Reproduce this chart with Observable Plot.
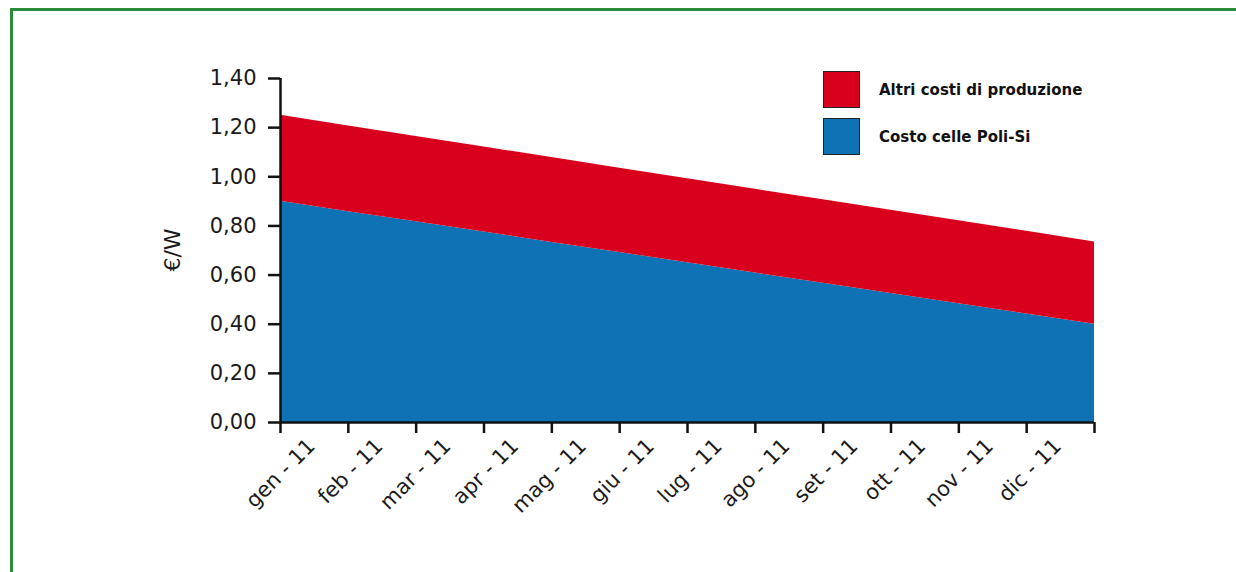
<!DOCTYPE html>
<html>
<head>
<meta charset="utf-8">
<script src="https://cdn.jsdelivr.net/npm/d3@7"></script>
<script src="https://cdn.jsdelivr.net/npm/@observablehq/plot@0.6"></script>
<style>
  html, body { margin: 0; padding: 0; background: #fff; }
  #wrap { position: relative; width: 1236px; height: 572px; overflow: hidden; }
  #frame { position: absolute; left: 10px; top: 8px; width: 1300px; height: 700px; border: 3px solid #2a8c3c; box-sizing: border-box; }
  #chart { position: absolute; left: 0; top: 0; }
  #ylabel { position: absolute; left: 172px; top: 250px; transform: translate(-50%, -50%) rotate(-90deg);
            font-family: "DejaVu Sans", sans-serif; font-size: 22px; color: #1a1a1a; white-space: nowrap; }
  .legend { position: absolute; left: 823px; top: 71px; font-family: "DejaVu Sans", sans-serif; font-weight: bold; font-size: 15px; color: #111; }
  .legend .row { display: flex; align-items: center; height: 37px; margin-bottom: 10px; }
  .legend .sw { width: 37px; height: 37px; box-sizing: border-box; border: 1px solid #222; margin-right: 19px; }
</style>
</head>
<body>
<div id="wrap">
  <div id="frame"></div>
  <div id="chart"></div>
  <div id="ylabel"></div>
  <div class="legend" id="legend"></div>
</div>
<script>
// Data
const months = ["gen - 11", "feb - 11", "mar - 11", "apr - 11", "mag - 11", "giu - 11",
                 "lug - 11", "ago - 11", "set - 11", "ott - 11", "nov - 11", "dic - 11"];
// values at the 13 month boundaries (start of gen-11 ... end of dic-11)
const steps = [0, 1, 2, 3, 4, 5, 6, 7, 8, 9, 10, 11, 12];
const costoCelle = [0.900, 0.858, 0.817, 0.775, 0.733, 0.692, 0.650, 0.608, 0.567, 0.525, 0.483, 0.442, 0.400];
const altriCosti = [0.350, 0.349, 0.347, 0.346, 0.345, 0.343, 0.342, 0.341, 0.340, 0.339, 0.338, 0.336, 0.335];
const seriesNames = ["Costo celle Poli-Si", "Altri costi di produzione"];
const seriesColors = ["#0e72b5", "#d8001c"];
const yTicks = [0, 0.2, 0.4, 0.6, 0.8, 1.0, 1.2, 1.4];
const yLabel = "€/W";

const rows = [];
steps.forEach((s, i) => rows.push({x: s, series: seriesNames[0], value: costoCelle[i]}));
steps.forEach((s, i) => rows.push({x: s, series: seriesNames[1], value: altriCosti[i]}));

const fmt = d => d.toFixed(2).replace(".", ",");
const labelPos = months.map((m, i) => i + 0.5);

const chart = Plot.plot({
  width: 1236,
  height: 572,
  marginLeft: 280,
  marginRight: 142,
  marginTop: 78,
  marginBottom: 150,
  style: {fontFamily: "DejaVu Sans, sans-serif", fontSize: "21px", color: "#1a1a1a", background: "transparent"},
  x: {domain: [0, 12], label: null},
  y: {domain: [0, 1.4], label: null},
  color: {domain: seriesNames, range: seriesColors},
  marks: [
    Plot.areaY(rows, {x: "x", y: "value", fill: "series", z: "series", order: seriesNames}),
    Plot.axisY({ticks: yTicks, tickFormat: fmt, tickSize: 12, tickPadding: 12, strokeWidth: 2.5, stroke: "#111",
                label: null, fontSize: 21}),
    Plot.axisX({ticks: steps, tickSize: 11, tickFormat: () => "", strokeWidth: 2.5, stroke: "#111", label: null}),
    Plot.axisX({ticks: labelPos, tickSize: 0, tickPadding: 20, dx: -3, tickRotate: -45,
                tickFormat: d => months[Math.floor(d)], label: null, fontSize: 21}),
    Plot.ruleX([0], {y1: 0, y2: 1.4, stroke: "#111", strokeWidth: 2.5}),
    Plot.ruleY([0], {x1: 0, x2: 12, stroke: "#111", strokeWidth: 2.5})
  ]
});
document.getElementById("chart").appendChild(chart);
document.getElementById("ylabel").textContent = yLabel;

// Legend (top series first)
const legend = document.getElementById("legend");
[1, 0].forEach(k => {
  const row = document.createElement("div");
  row.className = "row";
  const sw = document.createElement("div");
  sw.className = "sw";
  sw.style.background = seriesColors[k];
  const t = document.createElement("span");
  t.textContent = seriesNames[k];
  row.appendChild(sw);
  row.appendChild(t);
  legend.appendChild(row);
});
</script>
</body>
</html>
